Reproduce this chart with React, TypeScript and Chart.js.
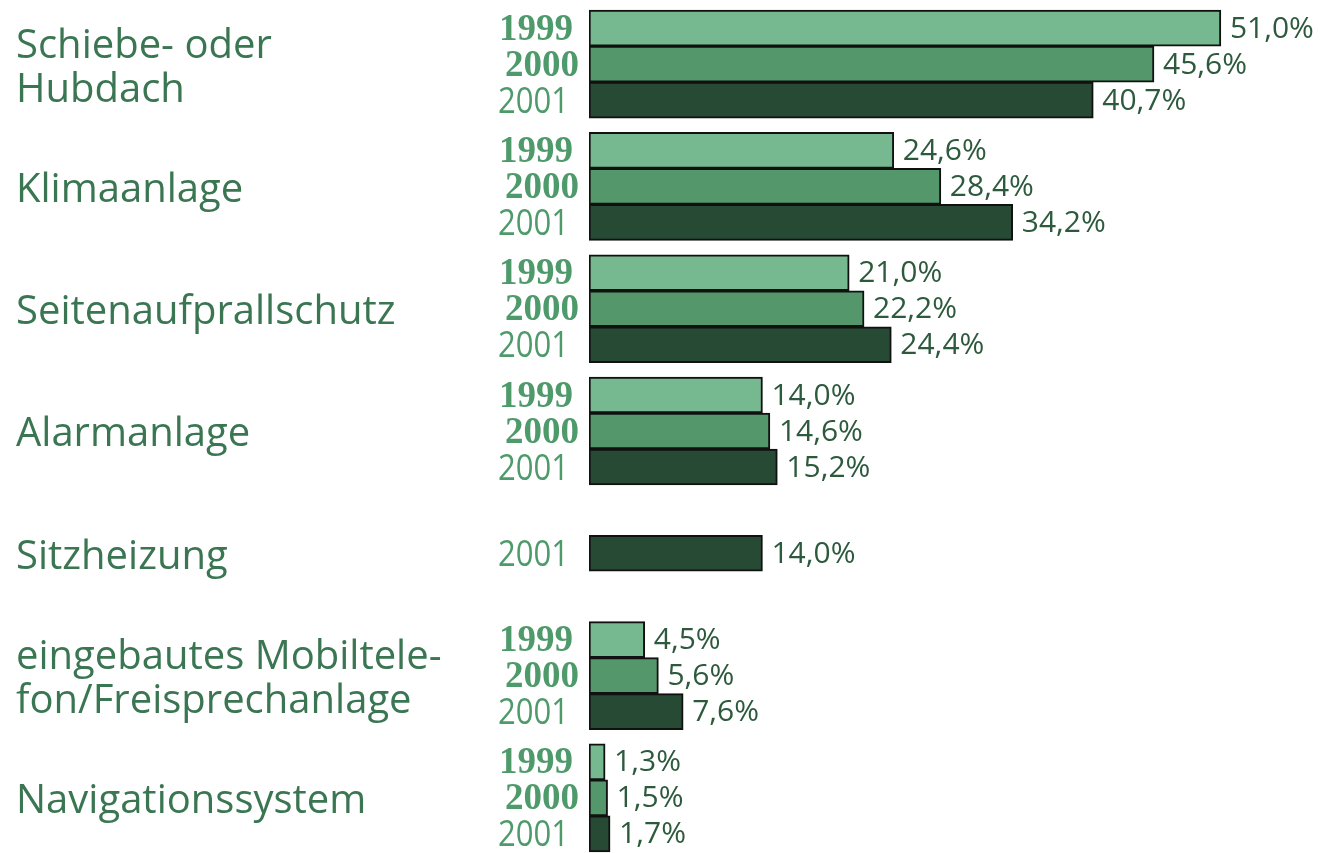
import React, { useEffect, useRef } from 'react';
import { Chart, registerables } from 'chart.js';

Chart.register(...registerables);

const categories: (string | string[])[] = [
  ['Schiebe- oder', 'Hubdach'],
  'Klimaanlage',
  'Seitenaufprallschutz',
  'Alarmanlage',
  'Sitzheizung',
  ['eingebautes Mobiltele-', 'fon/Freisprechanlage'],
  'Navigationssystem',
];
const years = ['1999', '2000', '2001'];
const values1999 = [51.0, 24.6, 21.0, 14.0, null, 4.5, 1.3];
const values2000 = [45.6, 28.4, 22.2, 14.6, null, 5.6, 1.5];
const values2001 = [40.7, 34.2, 24.4, 15.2, 14.0, 7.6, 1.7];

const barColors = ['#76b990', '#53976a', '#264a34'];
const yearFonts = ['bold 37px "Liberation Serif"', 'bold 37px "Liberation Serif"', '400 37px "Open Sans"'];
const yearScaleX = [1, 1, 0.84];
const yearGap = [16, 10, 20];

const labelPlugin = {
  id: 'barLabels',
  afterDatasetsDraw(chart: any) {
    const ctx = chart.ctx;
    const area = chart.chartArea;
    ctx.save();
    ctx.textBaseline = 'middle';
    chart.data.datasets.forEach((ds: any, di: number) => {
      const meta = chart.getDatasetMeta(di);
      meta.data.forEach((el: any, i: number) => {
        const v = ds.data[i];
        if (v === null || v === undefined) return;
        ctx.fillStyle = '#2d5a3d';
        ctx.font = '400 30px "Open Sans"';
        ctx.textAlign = 'left';
        ctx.fillText(v.toFixed(1).replace('.', ',') + '%', el.x + 9, el.y + 1);
        ctx.save();
        ctx.fillStyle = '#4e9a6b';
        ctx.font = yearFonts[di];
        ctx.textAlign = 'right';
        ctx.translate(area.left - yearGap[di], el.y + 2);
        ctx.scale(yearScaleX[di], 1);
        ctx.fillText(ds.label, 0, 0);
        ctx.restore();
      });
    });
    ctx.restore();
  },
};

export default function App() {
  const ref = useRef<HTMLCanvasElement>(null);
  useEffect(() => {
    if (!ref.current) return;
    const series = [values1999, values2000, values2001];
    const chart = new Chart(ref.current, {
      type: 'bar',
      data: {
        labels: categories,
        datasets: series.map((d, i) => ({
          label: years[i],
          data: d,
          backgroundColor: barColors[i],
          borderColor: '#111111',
          borderWidth: 2,
          borderSkipped: false,
          barThickness: 36,
          skipNull: true,
        })),
      },
      options: {
        indexAxis: 'y',
        animation: false,
        responsive: false,
        maintainAspectRatio: false,
        layout: { padding: { left: 16, top: 3, right: 0, bottom: 0 } },
        plugins: { legend: { display: false }, tooltip: { enabled: false } },
        scales: {
          x: { display: false, min: 0, max: 59 },
          y: {
            grid: { display: false },
            border: { display: false },
            afterFit: (scale: any) => {
              scale.width = 573;
              scale.paddingTop = 0;
              scale.paddingBottom = 0;
            },
            ticks: {
              crossAlign: 'far',
              labelOffset: 4,
              color: '#3a7652',
              font: { family: '"Open Sans"', size: 40, lineHeight: 1.1 },
            },
          },
        },
      },
      plugins: [labelPlugin],
    });
    return () => chart.destroy();
  }, []);
  return (
    <div style={{ position: 'fixed', left: 0, top: 0, width: 1320, height: 859, background: '#fff' }}>
      <canvas ref={ref} width={1320} height={859} style={{ display: 'block' }} />
    </div>
  );
}
